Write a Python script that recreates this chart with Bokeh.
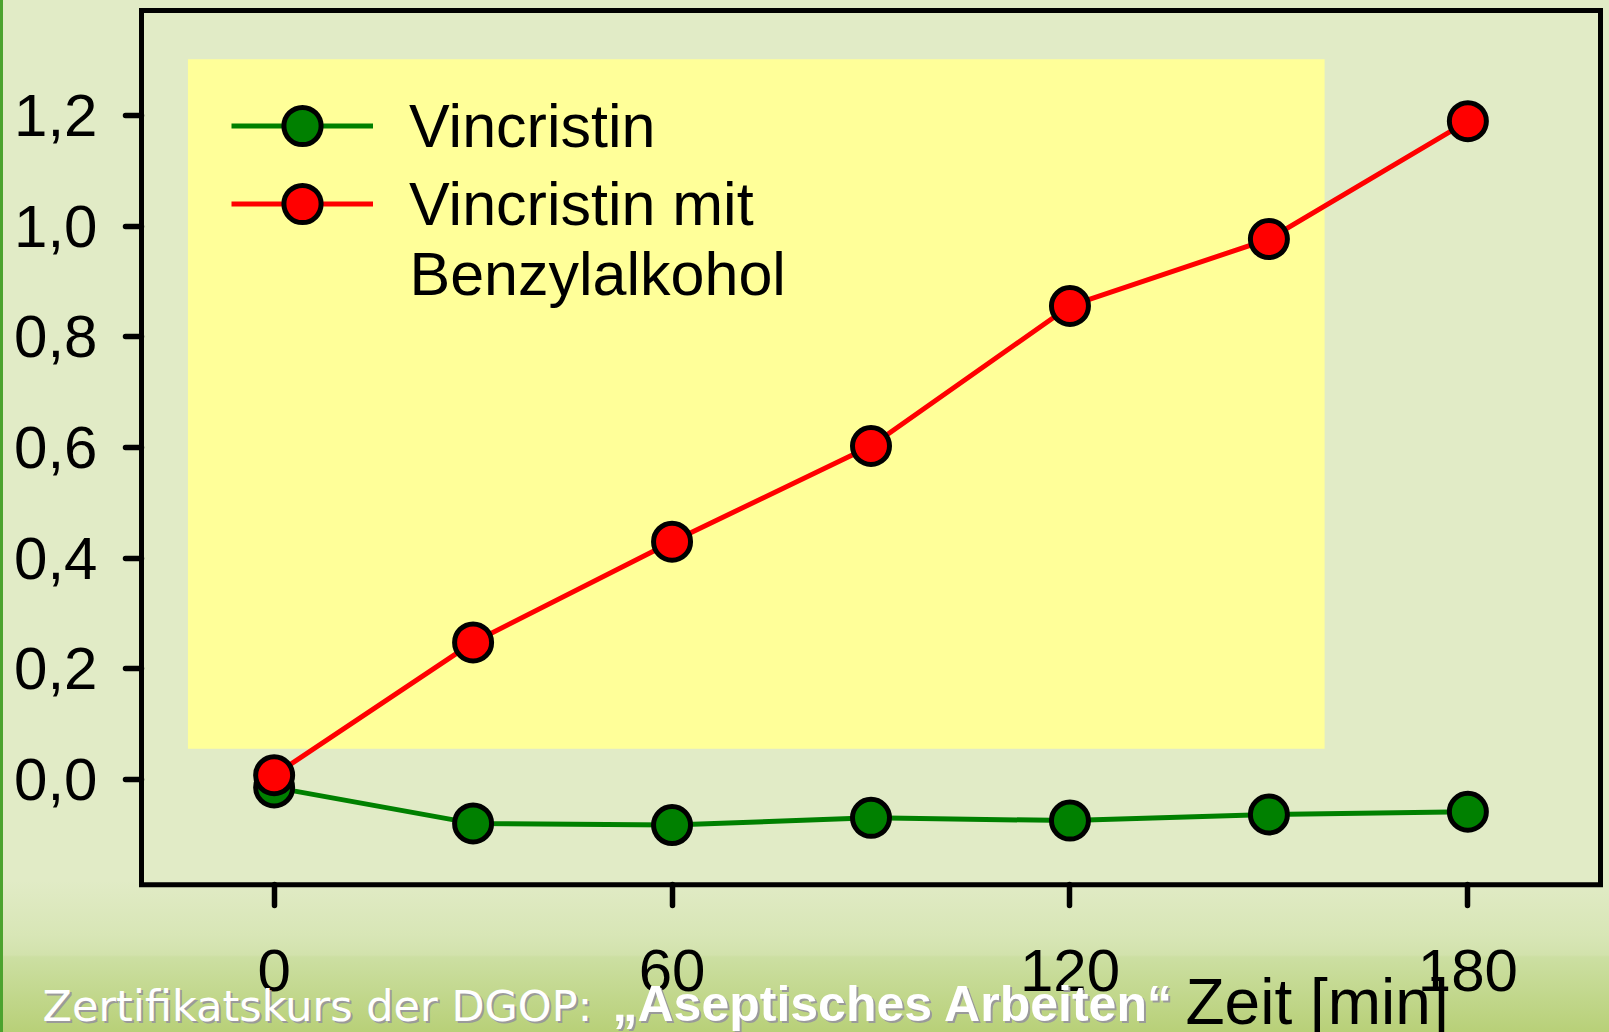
from bokeh.plotting import figure
from bokeh.models import Range1d, FixedTicker, CustomJSTickFormatter, Legend, LegendItem, Label, BoxAnnotation
from bokeh.embed import file_html
from bokeh.resources import INLINE

# ---- data ----
times = [0, 30, 60, 90, 120, 150, 180]
vincristin = [-0.014, -0.079, -0.082, -0.069, -0.074, -0.063, -0.058]
vincristin_benzyl = [0.008, 0.248, 0.430, 0.603, 0.856, 0.977, 1.190]
x_ticks = [0, 60, 120, 180]
y_ticks = [0.0, 0.2, 0.4, 0.6, 0.8, 1.0, 1.2]
series_names = ["Vincristin", "Vincristin mit"]
legend_extra_line = "Benzylalkohol"
x_label = "Zeit [min]"
footer_regular = "Zertifikatskurs der DGOP: "
footer_bold = "\u201eAseptisches Arbeiten\u201c"
x_axis_span = (-20, 200)
y_axis_span = (-0.19, 1.39)
highlight_box = dict(left=-13.0, right=158.4, bottom=0.056, top=1.302)

# ---- layout (pixels) ----
W, H = 1609, 1032
BOX_L, BOX_R, BOX_T, BOX_B = 141, 1600, 10, 884.3   # plot box on the canvas
ppx = (BOX_R - BOX_L) / (x_axis_span[1] - x_axis_span[0])
ppy = (BOX_B - BOX_T) / (y_axis_span[1] - y_axis_span[0])
x_range = Range1d(x_axis_span[0] - BOX_L / ppx, x_axis_span[1] + (W - BOX_R) / ppx)
y_range = Range1d(y_axis_span[0] - (H - BOX_B) / ppy, y_axis_span[1] + BOX_T / ppy)

p = figure(width=W, height=H, x_range=x_range, y_range=y_range,
           output_backend="svg", toolbar_location=None,
           min_border_left=0, min_border_right=0, min_border_top=0, min_border_bottom=0)
p.background_fill_color = None
p.border_fill_color = None
p.outline_line_color = None
p.styles = {"background": "linear-gradient(to right, #4CA32F 0px, #4CA32F 3px, rgba(0,0,0,0) 3px), "
                          "linear-gradient(to bottom, #E1EBC6 0px, #E1EBC6 880px, #D8E6B6 935px, "
                          "#D2E2AC 955px, #CCDFA2 957px, #B8D078 1032px)"}
p.grid.visible = False

p.add_layout(BoxAnnotation(**highlight_box, fill_color="#FFFF99", fill_alpha=1.0,
                           line_color=None, level="underlay"))
# plot box frame
p.add_layout(BoxAnnotation(left=x_axis_span[0], right=x_axis_span[1], bottom=y_axis_span[0],
                           top=y_axis_span[1], fill_alpha=0, line_color="black", line_alpha=1.0,
                           line_width=5, line_join="miter", level="underlay"))

lg = p.line(times, vincristin, line_color="#008000", line_width=5)
lr = p.line(times, vincristin_benzyl, line_color="#FF0000", line_width=5)
sg = p.scatter(times, vincristin, size=37, fill_color="#008000", line_color="black", line_width=5)
sr = p.scatter(times, vincristin_benzyl, size=37, fill_color="#FF0000", line_color="black", line_width=5)

for ax in (p.xaxis[0], p.yaxis[0]):
    ax.axis_line_color = None
    ax.major_tick_line_width = 5.5
    ax.major_tick_line_cap = "round"
    ax.major_tick_line_color = "black"
    ax.major_tick_line_alpha = 1.0
    ax.major_tick_in = 0
    ax.minor_tick_line_color = None
    ax.major_label_text_font = "Liberation Sans"
    ax.major_label_text_font_size = "60px"
    ax.major_label_text_color = "black"

p.xaxis.fixed_location = y_axis_span[0]
p.xaxis.bounds = x_axis_span
p.xaxis.ticker = FixedTicker(ticks=x_ticks)
p.xaxis.major_tick_out = 21
p.xaxis.major_label_standoff = 44
p.yaxis.fixed_location = x_axis_span[0]
p.yaxis.bounds = y_axis_span
p.yaxis.ticker = FixedTicker(ticks=y_ticks)
p.yaxis.major_tick_out = 16
p.yaxis.major_label_standoff = 28
p.yaxis.formatter = CustomJSTickFormatter(code="return tick.toFixed(1).replace('.', ',')")

legend_style = dict(padding=0, margin=0, glyph_width=142, glyph_height=93, label_standoff=36,
                    label_text_font="Liberation Sans", label_text_font_size="61px",
                    label_text_color="black", background_fill_alpha=0, border_line_color=None)
p.add_layout(Legend(items=[LegendItem(label=series_names[0], renderers=[lg, sg])],
                    location=(231, 860), **legend_style))
p.add_layout(Legend(items=[LegendItem(label=series_names[1], renderers=[lr, sr])],
                    location=(231, 782), **legend_style))

# screen units: from the frame's bottom-left corner (= canvas bottom-left here)
p.add_layout(Label(x=409, y=759, x_units="screen", y_units="screen", text=legend_extra_line,
                   text_font="Liberation Sans", text_font_size="61px", text_color="black",
                   text_baseline="alphabetic"))

for dx, dy, col in [(2, -2, "#9A9A9A"), (0, 0, "white")]:
    p.add_layout(Label(x=42 + dx, y=27 + dy, x_units="screen", y_units="screen", text=footer_regular,
                       text_font="DejaVu Sans", text_font_size="43px", text_color=col,
                       text_baseline="alphabetic"))
    p.add_layout(Label(x=612 + dx, y=29 + dy, x_units="screen", y_units="screen", text=footer_bold,
                       text_font="Liberation Sans", text_font_size="50px", text_font_style="bold",
                       text_color=col, text_baseline="alphabetic"))

p.add_layout(Label(x=1185, y=31, x_units="screen", y_units="screen", text=x_label,
                   text_font="Liberation Sans", text_font_size="64px", text_color="black",
                   text_baseline="alphabetic"))

open("out.html", "w").write(file_html(p, INLINE))
